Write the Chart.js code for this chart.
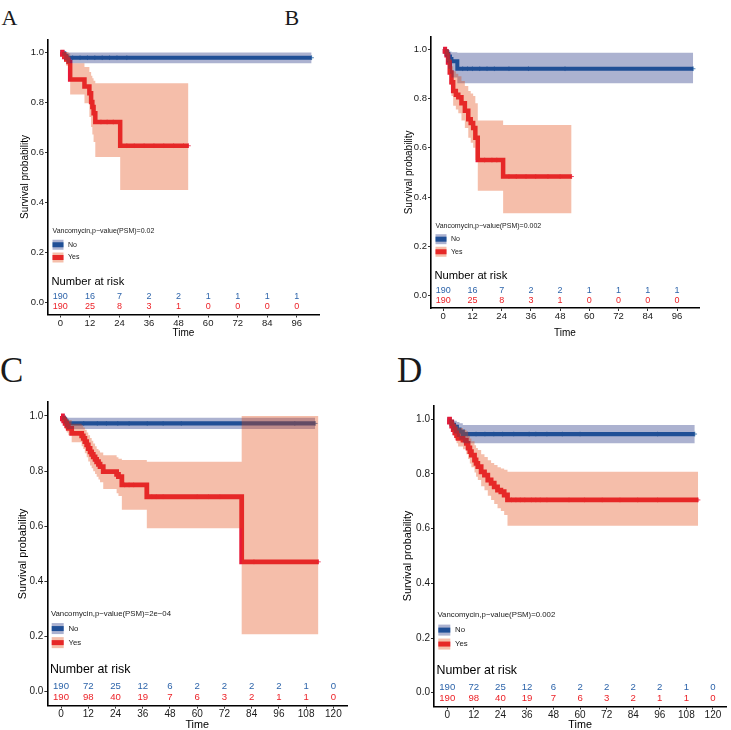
<!DOCTYPE html>
<html><head><meta charset="utf-8">
<script src="https://cdn.jsdelivr.net/npm/chart.js@4.4.1/dist/chart.umd.min.js"></script>
<style>
html,body{margin:0;padding:0;background:#fff;overflow:hidden;width:731px;height:730px;}
canvas{position:absolute;}
.lbl{position:absolute;font-family:"Liberation Serif","Times New Roman",serif;color:#1a1a1a;line-height:1;white-space:nowrap;}
</style></head><body>
<div class="lbl" style="left:1.5px;top:6.6px;font-size:22px;">A</div>
<div class="lbl" style="left:284.5px;top:6.6px;font-size:22px;">B</div>
<div class="lbl" style="left:0px;top:353px;font-size:35px;">C</div>
<div class="lbl" style="left:397px;top:353px;font-size:35px;">D</div>
<canvas id="cA" width="365" height="345" style="left:0px;top:0px;width:365px;height:345px"></canvas>
<canvas id="cB" width="366" height="345" style="left:365px;top:0px;width:366px;height:345px"></canvas>
<canvas id="cC" width="365" height="370" style="left:0px;top:365px;width:365px;height:370px"></canvas>
<canvas id="cD" width="366" height="370" style="left:365px;top:365px;width:366px;height:370px"></canvas>
<script>
// ================= DATA =================
const groupNames = ['No', 'Yes'];
const legendLabel = 'Vancomycin,p\u2212value(PSM)=';
const pValueA = '0.02', pValueB = '0.002', pValueC = '2e\u221204', pValueD = '0.002';

const yTickValues = [0, 0.2, 0.4, 0.6, 0.8, 1.0];
const riskTimesAB = [0, 12, 24, 36, 48, 60, 72, 84, 96];
const riskTimesCD = [0, 12, 24, 36, 48, 60, 72, 84, 96, 108, 120];
const riskNoA  = [190, 16, 7, 2, 2, 1, 1, 1, 1];
const riskYesA = [190, 25, 8, 3, 1, 0, 0, 0, 0];
const riskNoB  = [190, 16, 7, 2, 2, 1, 1, 1, 1];
const riskYesB = [190, 25, 8, 3, 1, 0, 0, 0, 0];
const riskNoC  = [190, 72, 25, 12, 6, 2, 2, 2, 2, 1, 0];
const riskYesC = [190, 98, 40, 19, 7, 6, 3, 2, 1, 1, 0];
const riskNoD  = [190, 72, 25, 12, 6, 2, 2, 2, 2, 1, 0];
const riskYesD = [190, 98, 40, 19, 7, 6, 3, 2, 1, 1, 0];

// Panel A
const timeNoA = [0, 0.8, 1.6, 2.5, 102];
const survNoA = [1, 0.995, 0.985, 0.977, 0.977];
const upNoA   = [1, 1, 1, 0.998, 0.998];
const lowNoA  = [1, 0.985, 0.968, 0.955, 0.955];
const censNoA = [5, 8, 11, 14, 17, 20, 23, 27, 102];
const timeYesA = [0, 0.8, 1.6, 2.4, 3.3, 4.0, 9.8, 11.8, 12.5, 13.0, 13.5, 14.2, 24.3, 52];
const survYesA = [1, 0.99, 0.98, 0.97, 0.96, 0.89, 0.862, 0.835, 0.80, 0.78, 0.755, 0.72, 0.625, 0.625];
const upYesA   = [1, 1, 1, 1, 0.995, 0.955, 0.94, 0.92, 0.905, 0.895, 0.885, 0.875, 0.875, 0.875];
const lowYesA  = [1, 0.975, 0.96, 0.945, 0.93, 0.83, 0.795, 0.74, 0.70, 0.67, 0.64, 0.58, 0.448, 0.448];
const censYesA = [16.5, 19, 21.5, 27, 30, 34, 38, 42, 46, 50, 52];

// Panel B
const timeNoB = [0, 0.7, 1.4, 2.1, 2.8, 3.4, 5.8, 102.6];
const survNoB = [1, 0.99, 0.98, 0.97, 0.96, 0.95, 0.92, 0.92];
const upNoB   = [1, 1, 1, 0.995, 0.99, 0.987, 0.985, 0.985];
const lowNoB  = [1, 0.97, 0.945, 0.92, 0.9, 0.885, 0.861, 0.861];
const censNoB = [8, 10, 12, 15, 18, 21, 27, 35, 50, 102.6];
const timeYesB = [0, 0.7, 1.4, 2.0, 2.7, 3.4, 4.1, 5.2, 6.2, 7.5, 8.9, 10.3, 11.3, 12.3, 13.2, 14.2, 24.6, 52.7];
const survYesB = [1, 0.99, 0.975, 0.945, 0.905, 0.865, 0.83, 0.815, 0.805, 0.78, 0.75, 0.715, 0.70, 0.68, 0.64, 0.55, 0.483, 0.483];
const upYesB   = [1, 1, 1, 0.99, 0.96, 0.93, 0.91, 0.90, 0.89, 0.87, 0.85, 0.83, 0.82, 0.81, 0.78, 0.71, 0.692, 0.692];
const lowYesB  = [1, 0.975, 0.95, 0.90, 0.855, 0.81, 0.77, 0.755, 0.74, 0.71, 0.68, 0.64, 0.62, 0.60, 0.55, 0.425, 0.334, 0.334];
const censYesB = [17, 20, 22, 27, 30, 34, 38, 43, 48, 52.7];

// Panel C
const timeNoC = [0, 0.6, 1.2, 1.8, 2.5, 112];
const survNoC = [1, 0.994, 0.988, 0.98, 0.973, 0.973];
const upNoC   = [1, 1, 1, 0.997, 0.994, 0.994];
const lowNoC  = [1, 0.985, 0.972, 0.96, 0.953, 0.953];
const censNoC = [10, 16, 20, 25, 30, 38, 45, 53, 103, 112];
const timeYesC = [0, 0.6, 1.2, 1.8, 2.5, 3.2, 4.7, 9.1, 9.8, 10.5, 11.3, 12.0, 12.8, 13.5, 14.2, 15.0, 15.7, 16.5, 17.2, 18.6, 24.5, 25.3, 26.8, 37.8, 79.6, 113.4];
const survYesC = [1, 0.99, 0.982, 0.973, 0.964, 0.955, 0.937, 0.928, 0.919, 0.907, 0.895, 0.882, 0.87, 0.861, 0.852, 0.843, 0.834, 0.825, 0.816, 0.798, 0.788, 0.78, 0.75, 0.707, 0.471, 0.471];
const upYesC   = [1, 1, 1, 0.995, 0.99, 0.985, 0.972, 0.966, 0.958, 0.95, 0.94, 0.93, 0.92, 0.91, 0.90, 0.89, 0.88, 0.875, 0.868, 0.858, 0.85, 0.845, 0.84, 0.834, 1.0, 1.0];
const lowYesC  = [1, 0.98, 0.965, 0.952, 0.94, 0.93, 0.905, 0.89, 0.88, 0.865, 0.85, 0.835, 0.82, 0.81, 0.80, 0.79, 0.78, 0.77, 0.76, 0.735, 0.72, 0.71, 0.66, 0.593, 0.208, 0.208];
const censYesC = [28, 30, 32, 40, 42, 45, 60, 65, 70, 85, 113.4];

// Panel D
const timeNoD = [0, 1.0, 2.0, 3.0, 4.3, 5.5, 7.0, 111.8];
const survNoD = [1, 0.99, 0.98, 0.972, 0.962, 0.955, 0.946, 0.946];
const upNoD   = [1, 1, 0.998, 0.995, 0.99, 0.985, 0.979, 0.979];
const lowNoD  = [1, 0.975, 0.96, 0.948, 0.935, 0.925, 0.912, 0.912];
const censNoD = [9, 13, 17, 21, 25, 30, 37, 40, 45, 52, 60, 95, 111.8];
const timeYesD = [0, 1.0, 2.0, 2.7, 3.4, 4.2, 4.9, 7.1, 8.6, 9.4, 10.2, 10.9, 12.3, 13.0, 13.8, 15.3, 16.8, 18.3, 19.8, 21.2, 22.7, 24.2, 25.7, 27.2, 113.3];
const survYesD = [1, 0.99, 0.975, 0.962, 0.95, 0.94, 0.93, 0.924, 0.912, 0.895, 0.882, 0.869, 0.851, 0.839, 0.827, 0.808, 0.796, 0.778, 0.766, 0.753, 0.741, 0.735, 0.723, 0.705, 0.705];
const upYesD   = [1, 1, 0.998, 0.99, 0.982, 0.975, 0.968, 0.962, 0.955, 0.94, 0.93, 0.92, 0.905, 0.895, 0.888, 0.872, 0.862, 0.85, 0.84, 0.833, 0.825, 0.82, 0.815, 0.808, 0.808];
const lowYesD  = [1, 0.975, 0.955, 0.94, 0.925, 0.912, 0.9, 0.89, 0.872, 0.855, 0.838, 0.825, 0.805, 0.79, 0.778, 0.755, 0.74, 0.72, 0.705, 0.69, 0.675, 0.665, 0.65, 0.611, 0.611];
const censYesD = [29, 31, 33, 35, 38, 40, 42, 45, 55, 62, 70, 78, 86, 95, 113.3];

// ================= STYLE =================
const BLUE_LINE = 'rgb(41,104,166)';
const RED_LINE  = 'rgb(232,25,55)';
const BLUE_BAND = 'rgba(18,35,121,0.35)';
const RED_BAND  = 'rgba(226,69,12,0.35)';
const BLUE_TXT  = 'rgb(45,100,170)';
const RED_TXT   = 'rgb(236,34,40)';
const FONT = '"Liberation Sans", Arial, Helvetica, sans-serif';

function pts(times, vals) { return times.map((t, i) => ({x: t, y: vals[i]})); }
function stepAt(times, vals, t) {
  let v = vals[0];
  for (let i = 0; i < times.length; i++) if (times[i] <= t) v = vals[i];
  return v;
}

const kmAnnot = {
  id: 'kmAnnot',
  afterDatasetsDraw(chart, args, o) {
    const {ctx, chartArea: ca, scales: {x, y}} = chart;
    ctx.save();
    ctx.textBaseline = 'middle';
    ctx.textAlign = 'left';
    ctx.fillStyle = '#1a1a1a';
    ctx.font = o.legFont + 'px ' + FONT;
    ctx.fillText(o.legTitle, ca.left + o.legDx, y.getPixelForValue(0.283));
    const keys = [[0.229, groupNames[0], BLUE_LINE, BLUE_BAND], [0.178, groupNames[1], RED_LINE, RED_BAND]];
    keys.forEach(([v, label, lc, bc]) => {
      const cy = y.getPixelForValue(v);
      const kx = ca.left + o.keyDx;
      ctx.fillStyle = '#fff';
      ctx.fillRect(kx, cy - o.keyH / 2, o.keyW, o.keyH);
      ctx.fillStyle = lc;
      ctx.fillRect(kx, cy - 2.5, o.keyW, 5);
      ctx.fillStyle = bc;
      ctx.fillRect(kx, cy - o.keyH / 2, o.keyW, o.keyH);
      ctx.fillStyle = '#1a1a1a';
      ctx.fillText(label, ca.left + o.keyTextDx, cy);
    });
    ctx.font = o.nrFont + 'px ' + FONT;
    ctx.fillStyle = '#000';
    ctx.fillText('Number at risk', ca.left + o.legDx - 1, y.getPixelForValue(0.082));
    ctx.font = o.riskFont + 'px ' + FONT;
    ctx.textAlign = 'center';
    o.riskTimes.forEach((t, i) => {
      const px = x.getPixelForValue(t);
      ctx.fillStyle = BLUE_TXT;
      ctx.fillText(String(o.riskNo[i]), px, y.getPixelForValue(0.021));
      ctx.fillStyle = RED_TXT;
      ctx.fillText(String(o.riskYes[i]), px, y.getPixelForValue(-0.019));
    });
    ctx.restore();
  }
};

function makePanel(L, D) {
  const ds = [];
  ds.push({data: pts(D.tNo, D.sNo), borderColor: BLUE_LINE, borderWidth: L.lwBlue, stepped: 'before', pointRadius: 0, fill: false, order: 10, borderCapStyle: 'butt', borderJoinStyle: 'miter'});
  ds.push({data: pts(D.tYes, D.sYes), borderColor: RED_LINE, borderWidth: L.lwRed, stepped: 'before', pointRadius: 0, fill: false, order: 9, borderCapStyle: 'butt', borderJoinStyle: 'miter'});
  ds.push({data: D.cNo.map(t => ({x: t, y: stepAt(D.tNo, D.sNo, t)})), showLine: false, pointStyle: 'cross', pointRadius: 2.3, pointBorderWidth: 0.8, borderColor: BLUE_LINE, backgroundColor: BLUE_LINE, order: 8});
  ds.push({data: D.cYes.map(t => ({x: t, y: stepAt(D.tYes, D.sYes, t)})), showLine: false, pointStyle: 'cross', pointRadius: 2.3, pointBorderWidth: 0.8, borderColor: RED_LINE, backgroundColor: RED_LINE, order: 7});
  const blueLow = ds.length;
  ds.push({data: pts(D.tNo, D.lNo), borderColor: 'rgba(0,0,0,0)', borderWidth: 0, stepped: 'before', pointRadius: 0, fill: false, order: 6});
  ds.push({data: pts(D.tNo, D.uNo), borderColor: 'rgba(0,0,0,0)', borderWidth: 0, stepped: 'before', pointRadius: 0, fill: {target: blueLow}, backgroundColor: BLUE_BAND, order: 2});
  const redLow = ds.length;
  ds.push({data: pts(D.tYes, D.lYes), borderColor: 'rgba(0,0,0,0)', borderWidth: 0, stepped: 'before', pointRadius: 0, fill: false, order: 5});
  ds.push({data: pts(D.tYes, D.uYes), borderColor: 'rgba(0,0,0,0)', borderWidth: 0, stepped: 'before', pointRadius: 0, fill: {target: redLow}, backgroundColor: RED_BAND, order: 1});

  new Chart(document.getElementById(L.canvas), {
    type: 'line',
    data: {datasets: ds},
    options: {
      responsive: false, animation: false, devicePixelRatio: 1,
      layout: {padding: L.pad},
      plugins: {
        legend: {display: false}, tooltip: {enabled: false},
        kmAnnot: {legTitle: legendLabel + D.p, legFont: L.legFont, legDx: L.legDx, keyDx: L.keyDx, keyW: L.keyW, keyH: L.keyH,
          keyTextDx: L.keyTextDx, nrFont: L.nrFont, riskFont: L.riskFont, riskTimes: D.riskT, riskNo: D.rNo, riskYes: D.rYes}
      },
      scales: {
        x: {
          type: 'linear', min: L.xMin, max: L.xMax,
          afterFit: s => { s.height = L.xH; },
          afterBuildTicks: s => { s.ticks = D.riskT.map(v => ({value: v})); },
          border: {display: true, color: '#000', width: 1.6},
          grid: {display: true, drawOnChartArea: false, drawTicks: true, tickLength: 3, color: '#333', tickWidth: 1},
          ticks: {autoSkip: false, maxRotation: 0, padding: 0, color: '#1a1a1a', font: {family: FONT, size: L.tickFont}},
          title: {display: true, text: 'Time', color: '#000', font: {family: FONT, size: L.titleFont}, padding: {top: 0, bottom: L.xTitlePad}}
        },
        y: {
          type: 'linear', min: -0.05, max: 1.05,
          afterFit: s => { s.width = L.yW; },
          afterBuildTicks: s => { s.ticks = yTickValues.map(v => ({value: v})); },
          border: {display: true, color: '#000', width: 1.6},
          grid: {display: true, drawOnChartArea: false, drawTicks: true, tickLength: 3, color: '#333', tickWidth: 1},
          ticks: {autoSkip: false, padding: 1, color: '#1a1a1a', font: {family: FONT, size: L.tickFont},
            callback: v => (Math.round(v * 10) / 10).toFixed(1)},
          title: {display: true, text: 'Survival probability', color: '#000', font: {family: FONT, size: L.titleFont}, padding: {top: L.yTitlePad, bottom: 0}}
        }
      }
    },
    plugins: [kmAnnot]
  });
}

const small = {legFont: 7, nrFont: 11.2, riskFont: 9, tickFont: 9.5, titleFont: 10, lwRed: 4.5, lwBlue: 4, keyW: 11, keyH: 10, legDx: 4.5, keyDx: 4.5, keyTextDx: 20};
const big = {legFont: 7.8, nrFont: 12.4, riskFont: 9.6, tickFont: 10, titleFont: 10.8, lwRed: 4.8, lwBlue: 4.2, keyW: 12, keyH: 11, legDx: 3.5, keyDx: 4.3, keyTextDx: 21};

makePanel(Object.assign({}, small, {canvas: 'cA', pad: {left: 0, top: 39.5, right: 46, bottom: 0}, yW: 48, xH: 30.5, xMin: -5, xMax: 105, yTitlePad: 19, xTitlePad: 6}),
  {tNo: timeNoA, sNo: survNoA, uNo: upNoA, lNo: lowNoA, cNo: censNoA, tYes: timeYesA, sYes: survYesA, uYes: upYesA, lYes: lowYesA, cYes: censYesA,
   p: pValueA, riskT: riskTimesAB, rNo: riskNoA, rYes: riskYesA});
makePanel(Object.assign({}, small, {canvas: 'cB', pad: {left: 20, top: 36.7, right: 32, bottom: 0}, yW: 46, xH: 37, xMin: -5, xMax: 105, yTitlePad: 18, xTitlePad: 6}),
  {tNo: timeNoB, sNo: survNoB, uNo: upNoB, lNo: lowNoB, cNo: censNoB, tYes: timeYesB, sYes: survYesB, uYes: upYesB, lYes: lowYesB, cYes: censYesB,
   p: pValueB, riskT: riskTimesAB, rNo: riskNoB, rYes: riskYesB});
makePanel(Object.assign({}, big, {canvas: 'cC', pad: {left: 0, top: 37.2, right: 18, bottom: 0}, yW: 47.4, xH: 29.5, xMin: -6, xMax: 126, yTitlePad: 16.2, xTitlePad: 3.5}),
  {tNo: timeNoC, sNo: survNoC, uNo: upNoC, lNo: lowNoC, cNo: censNoC, tYes: timeYesC, sYes: survYesC, uYes: upYesC, lYes: lowYesC, cYes: censYesC,
   p: pValueC, riskT: riskTimesCD, rNo: riskNoC, rYes: riskYesC});
makePanel(Object.assign({}, big, {canvas: 'cD', pad: {left: 20, top: 40.6, right: 1, bottom: 0}, yW: 49, xH: 28.6, xMin: -6, xMax: 126, yTitlePad: 16.8, xTitlePad: 3.5}),
  {tNo: timeNoD, sNo: survNoD, uNo: upNoD, lNo: lowNoD, cNo: censNoD, tYes: timeYesD, sYes: survYesD, uYes: upYesD, lYes: lowYesD, cYes: censYesD,
   p: pValueD, riskT: riskTimesCD, rNo: riskNoD, rYes: riskYesD});
</script>
</body></html>
